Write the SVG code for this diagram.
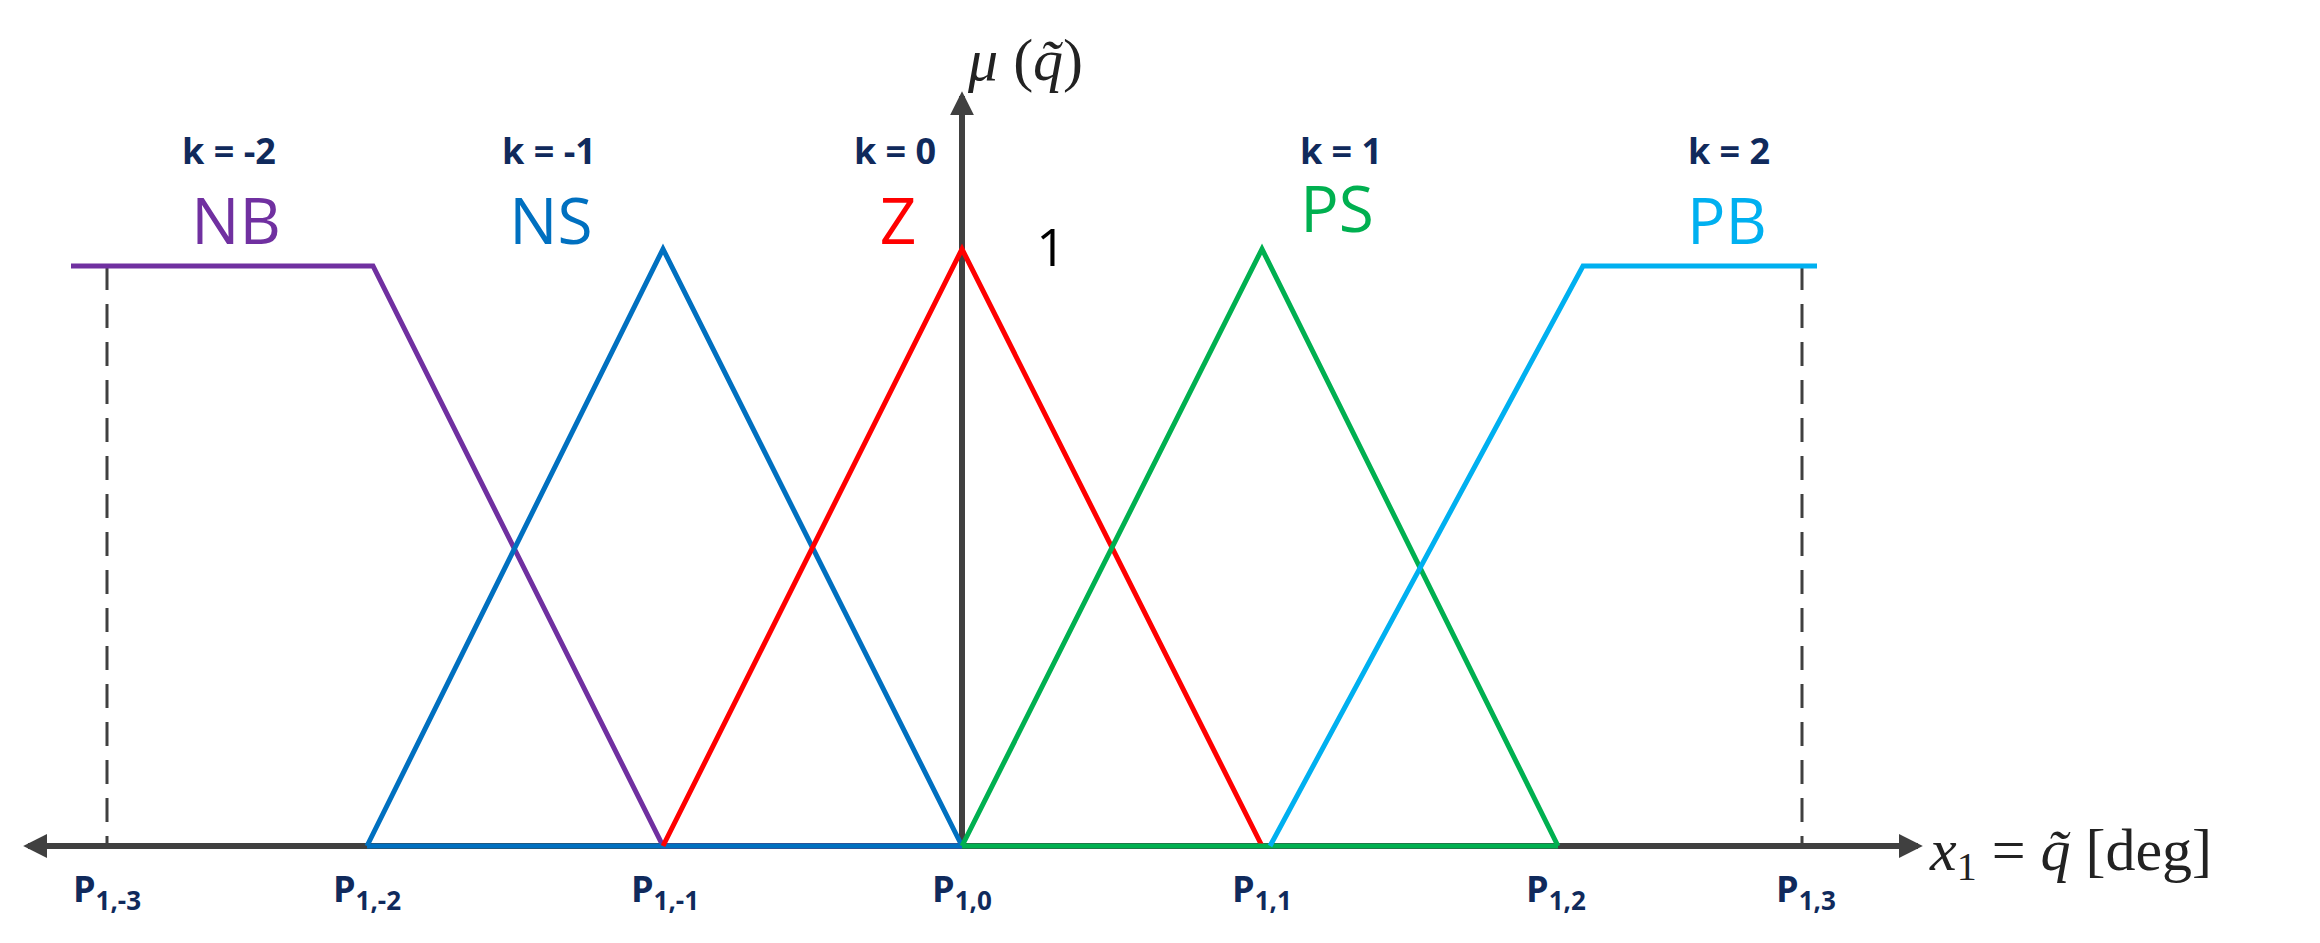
<svg xmlns="http://www.w3.org/2000/svg" width="2320" height="943" viewBox="0 0 2320 943">
<style>
.k{font-family:"Open Sans","Liberation Sans",sans-serif;font-weight:bold;font-size:36px;fill:#102a5c;text-anchor:middle}
.n{font-family:"Open Sans","Liberation Sans",sans-serif;font-size:64px;text-anchor:middle}
.p{font-family:"Open Sans","Liberation Sans",sans-serif;font-weight:bold;font-size:36px;fill:#102a5c;text-anchor:middle}
.ps{font-size:26px}
.m{font-family:"Liberation Serif",serif;font-size:60px;fill:#222}
.f{fill:none;stroke-width:5;stroke-linejoin:miter}
</style>
<defs>
<marker id="a" viewBox="0 0 10 10" refX="8" refY="5" markerWidth="24" markerHeight="24" markerUnits="userSpaceOnUse" orient="auto"><path d="M0,0 L10,5 L0,10 z" fill="#404040"/></marker>
</defs>
<g id="connectors">
<line x1="1914" y1="846" x2="28" y2="846" stroke="#404040" stroke-width="6" marker-end="url(#a)"/>
<line x1="30" y1="846" x2="1918" y2="846" stroke="#404040" stroke-width="6" marker-end="url(#a)"/>
<line x1="962" y1="846" x2="962" y2="96" stroke="#404040" stroke-width="6" marker-end="url(#a)"/>
<line x1="107" y1="266" x2="107" y2="846" stroke="#404040" stroke-width="3" stroke-dasharray="24,14"/>
<line x1="1802" y1="266" x2="1802" y2="846" stroke="#404040" stroke-width="3" stroke-dasharray="24,14"/>
</g>
<g id="NB"><polyline class="f" stroke="#7030a0" points="71,266 373,266 663,846 962,846"/></g>
<g id="NS"><polyline class="f" stroke="#0070c0" points="367,846 663,249 962,846"/><line x1="367" y1="846" x2="962" y2="846" stroke="#0070c0" stroke-width="5"/></g>
<g id="Z"><polyline class="f" stroke="#ff0000" points="663,846 962,249 1262,846"/></g>
<g id="PS"><polyline class="f" stroke="#00b050" points="962,846 1262,249 1558,846"/><line x1="962" y1="846" x2="1558" y2="846" stroke="#00b050" stroke-width="5"/></g>
<g id="PB"><polyline class="f" stroke="#00b0f0" points="1270,846 1583,266 1817,266"/></g>
<g id="labels">
<text class="k" x="229" y="164">k = -2</text>
<text class="k" x="549" y="164">k = -1</text>
<text class="k" x="895" y="164">k = 0</text>
<text class="k" x="1341" y="164">k = 1</text>
<text class="k" x="1729" y="164">k = 2</text>
<text class="n" x="236" y="244" fill="#7030a0">NB</text>
<text class="n" x="551" y="244" fill="#0070c0">NS</text>
<text class="n" x="898" y="244" fill="#ff0000">Z</text>
<text class="n" x="1337" y="232" fill="#00b050">PS</text>
<text class="n" x="1727" y="244" fill="#00b0f0">PB</text>
<text x="1051" y="266" font-family="Open Sans, Liberation Sans, sans-serif" font-size="52" text-anchor="middle" fill="#000">1</text>
<text class="m" x="968" y="80"><tspan font-style="italic">μ</tspan> (<tspan font-style="italic">q̃</tspan>)</text>
<text class="m" x="1930" y="870"><tspan font-style="italic">x</tspan><tspan font-size="40" dy="10">1</tspan><tspan dy="-10"> = </tspan><tspan font-style="italic">q̃</tspan> [deg]</text>
<text class="p" x="107" y="902">P<tspan class="ps" dy="8">1,-3</tspan></text>
<text class="p" x="367" y="902">P<tspan class="ps" dy="8">1,-2</tspan></text>
<text class="p" x="665" y="902">P<tspan class="ps" dy="8">1,-1</tspan></text>
<text class="p" x="962" y="902">P<tspan class="ps" dy="8">1,0</tspan></text>
<text class="p" x="1262" y="902">P<tspan class="ps" dy="8">1,1</tspan></text>
<text class="p" x="1556" y="902">P<tspan class="ps" dy="8">1,2</tspan></text>
<text class="p" x="1806" y="902">P<tspan class="ps" dy="8">1,3</tspan></text>
</g>
</svg>
